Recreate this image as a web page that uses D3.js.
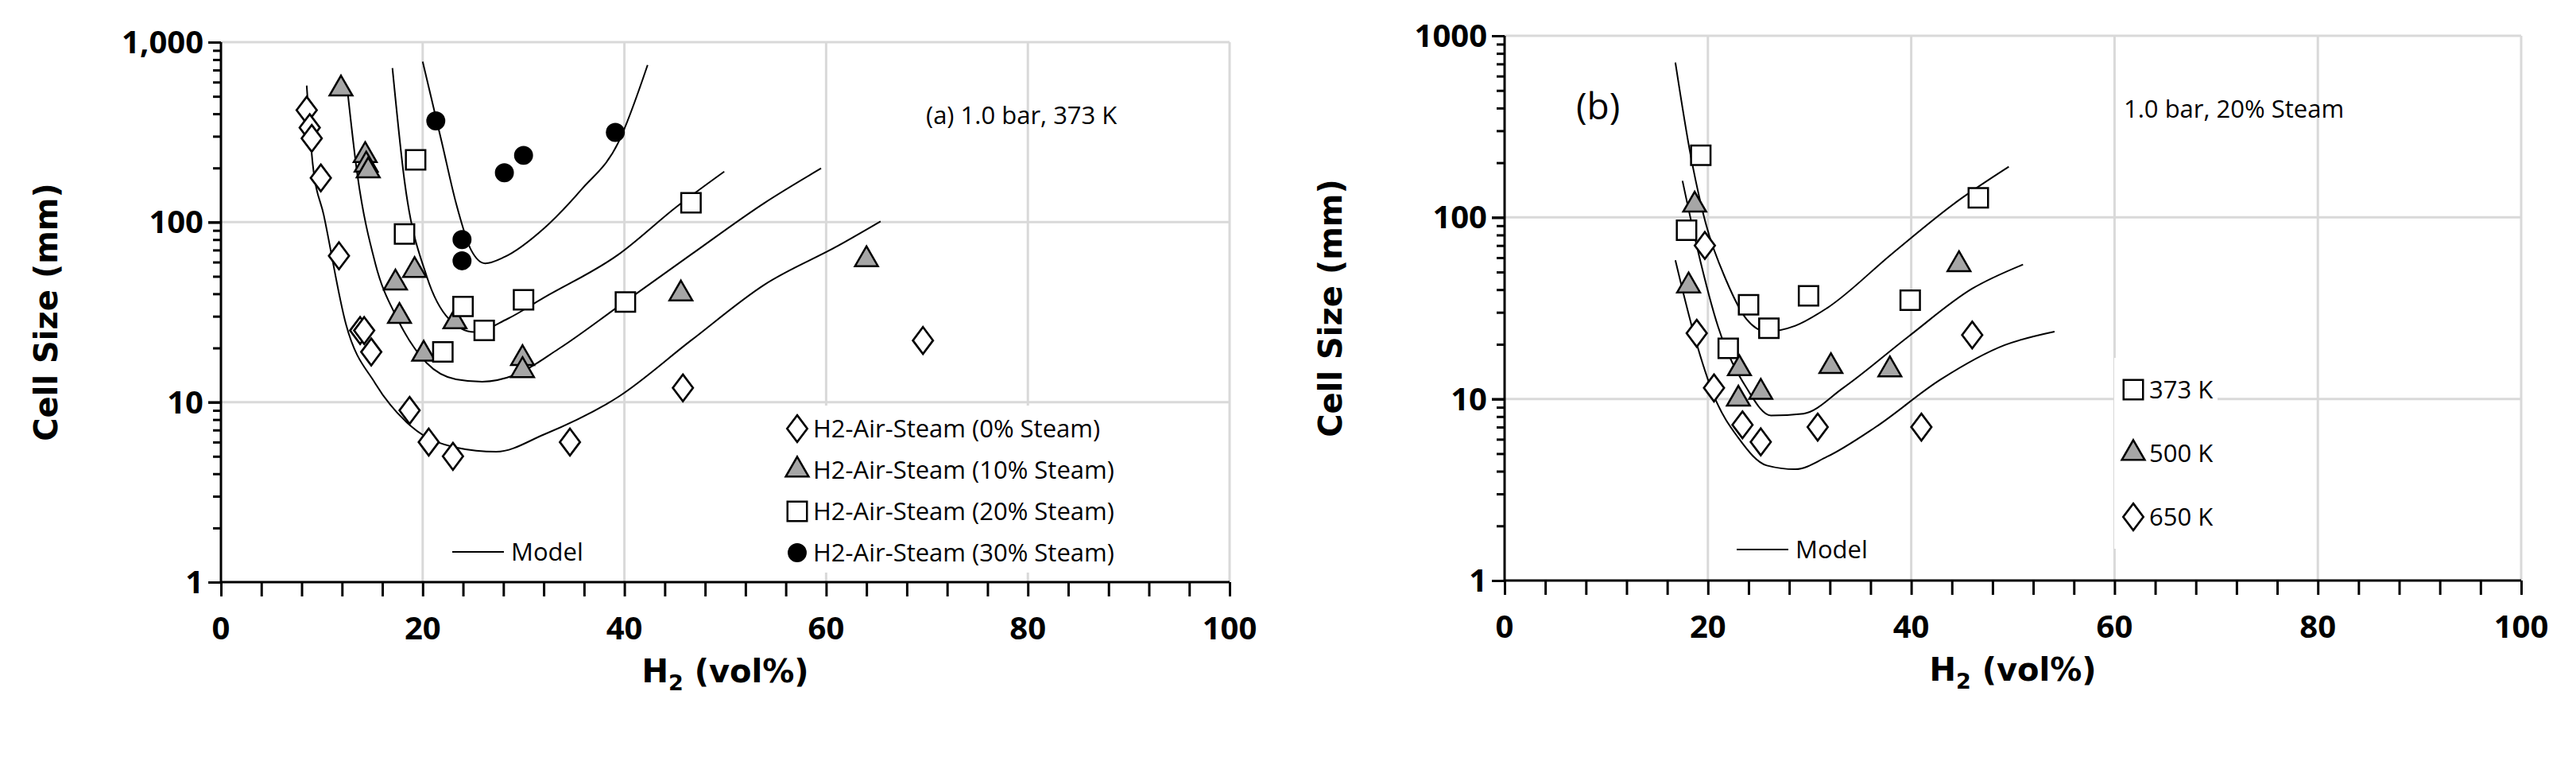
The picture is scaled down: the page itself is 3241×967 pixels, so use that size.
<!DOCTYPE html>
<html><head><meta charset="utf-8">
<script src="https://cdn.jsdelivr.net/npm/d3@7"></script>
<style>body{margin:0;background:#fff}</style>
</head><body><svg id="c" width="3241" height="967"></svg>
<script>
// panel (a): 1.0 bar, 373 K, [H2 vol%, cell size mm]
const steam0 = [[8.5,419],[8.8,335],[9.0,292],[9.9,176],[11.7,65],[13.8,25],[14.2,25],[14.9,19],[18.7,9],[20.6,6],[23,5],[34.6,6],[45.8,12],[69.6,22]];
const steam10 = [[11.9,550],[14.3,235],[14.4,208],[14.6,193],[17.3,46],[19.2,54],[17.7,30],[20.1,18.5],[23.2,28],[29.9,17.5],[29.9,15],[45.6,40],[64,62]];
const steam20 = [[19.3,222],[18.2,86],[24,34],[22,19],[26.1,25],[30,37],[40.1,36],[46.6,128]];
const steam30 = [[21.3,365],[28.1,188],[30,235],[39.1,315],[23.9,80],[23.9,61]];
const model0 = [[8.5,574],[9.1,210],[10.2,109],[12.4,27],[15.3,12.7],[18.9,7.3],[23.3,5.6],[27.3,5.3],[32,6.6],[39.4,10.7],[46.6,22],[53.9,45],[61.2,74],[65.4,101]];
const model10 = [[12.5,567],[13.5,188],[15.3,59],[17.5,29],[20.4,16.5],[23.3,13.4],[25.9,13],[29.2,14.2],[33.5,19.8],[39.4,34],[46.6,66],[53.9,128],[59.5,199]];
const model20 = [[17,718],[18.2,169],[20.4,50],[22.6,29],[25.1,24.5],[28.4,29],[32,38],[39.4,66],[45.2,122],[49.9,191]];
const model30 = [[20,780],[21.9,277],[23.3,128],[24.8,70],[26.2,59],[28.1,64],[32,92],[35.7,151],[39.4,277],[42.3,746]];
// panel (b): 1.0 bar, 20% steam
const t373 = [[19.3,220],[17.9,85],[24,33],[26,24.5],[22,19],[29.9,37],[39.9,35],[46.6,128]];
const t500 = [[18.7,117],[18.1,42],[23.1,14.7],[23,10],[25.2,10.9],[32.1,15.1],[37.9,14.5],[44.7,55]];
const t650 = [[19.7,70],[18.9,23],[20.6,11.5],[23.4,7.2],[25.2,5.8],[30.8,7],[41,7],[46,22.5]];
const model373 = [[16.8,713],[18.3,220],[19.8,92],[21.8,45],[23.8,27.5],[25.8,23.5],[28.6,25.3],[31.7,31.6],[38.1,63],[44.4,121],[49.6,190]];
const model500 = [[17.5,159],[19,66],[21,25],[23.8,11.5],[26.2,8.1],[29.4,8.3],[33.3,11.5],[39.7,22],[46,40.5],[51,55]];
const model650 = [[16.8,58],[18.7,22],[20.6,10.4],[23,6.1],[25.8,4.3],[28.6,4.1],[31.7,4.8],[36.5,7],[42.9,12.8],[49.2,19.8],[54.1,23.5]];
const xTicks = [0,20,40,60,80,100];
const yTicks = [1,10,100,1000];

const svg = d3.select('#c');
const FONT = '"Liberation Sans Narrow","Open Sans",sans-serif';
const sym = {
  diamond: {t: d3.symbolDiamond, s: 330, fill: '#fff'},
  triangle: {t: d3.symbolTriangle, s: 360, fill: '#a6a6a6'},
  square: {t: d3.symbolSquare, s: 600, fill: '#fff'},
  circle: {t: d3.symbolCircle, s: 360, fill: '#000'}
};

function symPath(g, kind, x, y) {
  const k = sym[kind];
  return g.append('path').attr('d', d3.symbol(k.t, k.s)())
    .attr('transform', kind === 'diamond' ? `translate(${x},${y}) scale(1.3,1)` : `translate(${x},${y})`)
    .attr('fill', k.fill).attr('stroke', '#000').attr('stroke-width', kind === 'diamond' ? 2.2 : 2.5);
}

function panel(o) {
  const x = d3.scaleLinear().domain([0, 100]).range([o.x0, o.x1]);
  const y = d3.scaleLog().domain([1, 1000]).range([o.y1, o.y0]);
  const g = svg.append('g');
  // grid
  g.selectAll('.gx').data(xTicks.slice(1)).join('line')
    .attr('x1', d => x(d)).attr('x2', d => x(d)).attr('y1', o.y0).attr('y2', o.y1)
    .attr('stroke', '#d9d9d9').attr('stroke-width', 3);
  g.selectAll('.gy').data(yTicks.slice(1)).join('line')
    .attr('x1', o.x0).attr('x2', o.x1).attr('y1', d => y(d)).attr('y2', d => y(d))
    .attr('stroke', '#d9d9d9').attr('stroke-width', 3);

  // legend background
  o.legendBox && g.append('rect').attr('x', o.legendBox[0]).attr('y', o.legendBox[1])
    .attr('width', o.legendBox[2]).attr('height', o.legendBox[3]).attr('fill', '#fff');

  // axes
  const xa = g.append('g').attr('transform', `translate(0,${o.y1})`)
    .call(d3.axisBottom(x).tickValues(d3.range(0, 101, 4)).tickSize(18).tickFormat(''));
  xa.selectAll('line, path').attr('stroke', '#000').attr('stroke-width', 3);
  xa.select('.domain').attr('d', `M${o.x0},0H${o.x1}`);
  g.selectAll('.xl').data(xTicks).join('text')
    .attr('x', d => x(d)).attr('y', o.y1 + 72).attr('text-anchor', 'middle')
    .attr('font-family', FONT).attr('font-weight', 'bold').attr('font-size', 40).text(d => d);

  const minor = [];
  for (let e = 0; e < 3; e++) for (let m = 1; m <= 10; m++) minor.push(m * Math.pow(10, e));
  const ya = g.append('g').attr('transform', `translate(${o.x0},0)`)
    .call(d3.axisLeft(y).tickValues(minor).tickSize(10).tickFormat(''));
  ya.selectAll('line, path').attr('stroke', '#000').attr('stroke-width', 3);
  ya.select('.domain').attr('d', `M0,${o.y0}V${o.y1}`);
  ya.selectAll('.tick line').filter(d => yTicks.includes(d)).attr('x2', -16);
  g.selectAll('.yl').data(yTicks).join('text')
    .attr('x', o.x0 - 22).attr('y', d => y(d) + 14).attr('text-anchor', 'end')
    .attr('font-family', FONT).attr('font-weight', 'bold').attr('font-size', 40)
    .text(d => o.comma ? d3.format(',')(d) : d);

  // titles
  g.append('text').attr('transform', `translate(${o.ytx},${(o.y0 + o.y1) / 2}) rotate(-90)`)
    .attr('text-anchor', 'middle').attr('font-family', 'Verdana,"DejaVu Sans",sans-serif')
    .attr('font-weight', 'bold').attr('font-size', 40).text('Cell Size (mm)');
  const xt = g.append('text').attr('x', (o.x0 + o.x1) / 2).attr('y', o.y1 + 126)
    .attr('text-anchor', 'middle').attr('font-family', 'Verdana,"DejaVu Sans",sans-serif')
    .attr('font-weight', 'bold').attr('font-size', 40);
  xt.append('tspan').text('H');
  xt.append('tspan').attr('font-size', 27).attr('dy', 10).text('2');
  xt.append('tspan').attr('dy', -10).text(' (vol%)');

  // model lines
  const line = d3.line().x(d => x(d[0])).y(d => y(d[1])).curve(d3.curveMonotoneX);
  o.models.forEach(m => g.append('path').attr('d', line(m)).attr('fill', 'none')
    .attr('stroke', '#000').attr('stroke-width', 2));

  // points
  o.series.forEach(s => s.data.forEach(d => symPath(g, s.kind, x(d[0]), y(d[1]))));

  // legend
  o.series.forEach((s, i) => {
    const ly = o.leg.y + i * o.leg.dy;
    symPath(g, s.kind, o.leg.x, ly);
    g.append('text').attr('x', o.leg.x + 20).attr('y', ly + 11).attr('font-family', FONT)
      .attr('font-size', 31).text(s.name);
  });
  g.append('line').attr('x1', o.model[0]).attr('x2', o.model[0] + 65)
    .attr('y1', o.model[1]).attr('y2', o.model[1]).attr('stroke', '#000').attr('stroke-width', 2);
  g.append('text').attr('x', o.model[0] + 74).attr('y', o.model[1] + 11)
    .attr('font-family', FONT).attr('font-size', 31).text('Model');
  o.notes.forEach(n => g.append('text').attr('x', n[0]).attr('y', n[1])
    .attr('font-family', FONT).attr('font-size', n[3]).text(n[2]));
}

panel({
  x0: 278, x1: 1547, y0: 53, y1: 732, ytx: 72, comma: true,
  models: [model0, model10, model20, model30],
  series: [
    {kind: 'diamond', name: 'H2-Air-Steam (0% Steam)', data: steam0},
    {kind: 'triangle', name: 'H2-Air-Steam (10% Steam)', data: steam10},
    {kind: 'square', name: 'H2-Air-Steam (20% Steam)', data: steam20},
    {kind: 'circle', name: 'H2-Air-Steam (30% Steam)', data: steam30}
  ],
  leg: {x: 1003, y: 539, dy: 52},
  legendBox: [980, 510, 440, 210],
  model: [569, 694],
  notes: [[1165, 156, '(a) 1.0 bar, 373 K', 31]]
});

panel({
  x0: 1893, x1: 3172, y0: 45, y1: 730, ytx: 1688, comma: false,
  models: [model373, model500, model650],
  series: [
    {kind: 'square', name: '373 K', data: t373},
    {kind: 'triangle', name: '500 K', data: t500},
    {kind: 'diamond', name: '650 K', data: t650}
  ],
  leg: {x: 2684, y: 490, dy: 80},
  legendBox: [2660, 450, 130, 240],
  model: [2185, 691],
  notes: [[1983, 150, '(b)', 46], [2672, 148, '1.0 bar, 20% Steam', 31]]
});
</script></body></html>
